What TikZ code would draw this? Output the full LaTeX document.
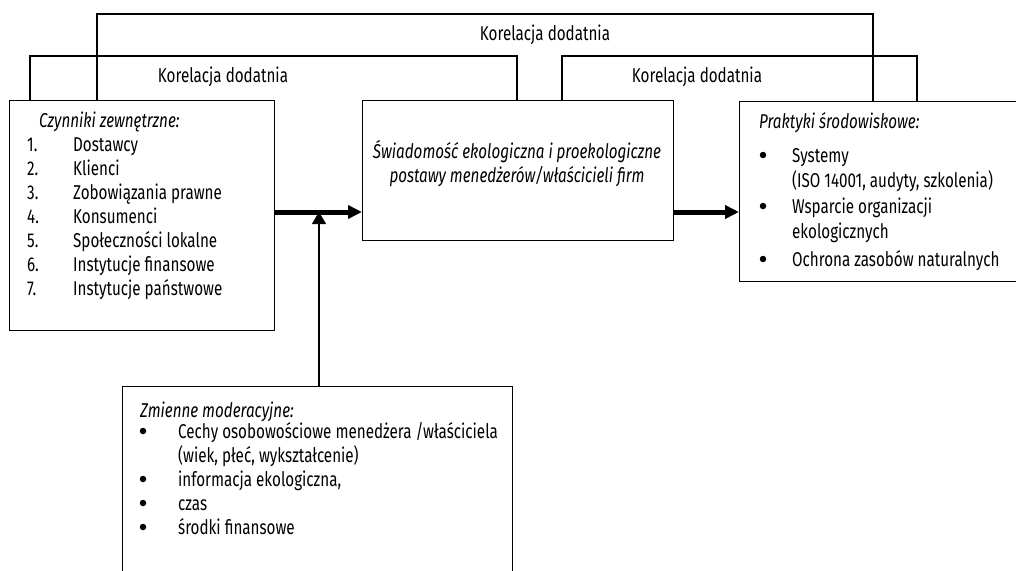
\documentclass[tikz,border=0pt]{standalone}
\usepackage{fontspec}
\setmainfont{Fira Sans}[FakeStretch=0.76]
\usetikzlibrary{arrows.meta}

\begin{document}
\begin{tikzpicture}[x=1pt,y=-1pt,
    ramka/.style={draw,line width=1.3pt,anchor=north west,inner sep=0pt},
    tekst/.style={anchor=base west,inner sep=0pt,font=\fontsize{20}{24}\selectfont},
    kropka/.style={circle,fill,inner sep=0pt,minimum size=6.5pt},
    linia/.style={line width=1.3pt},
    gruba/.style={line width=5pt,-{Triangle[length=14pt,width=13pt]}},
    cienka/.style={line width=1.3pt,-{Triangle[length=12pt,width=14pt]}}]
    \useasboundingbox (0,0) rectangle (1016,570);
    \clip (0,0) rectangle (1016,570);
    % ramki
    \node[ramka,minimum width=265,minimum height=230] (czyn) at (9,100) {};
    \node[ramka,minimum width=311,minimum height=140] (swiad) at (362,100) {};
    \node[ramka,minimum width=300,minimum height=180] (prak) at (739,101) {};
    \node[ramka,minimum width=390,minimum height=220] (mod) at (122,386) {};
    % czynniki zewnetrzne
    \node[tekst,font=\fontsize{20}{24}\selectfont\itshape] (czyn-h) at (39,127) {Czynniki zewnętrzne:};
    \foreach \t [count=\i] in {Dostawcy,Klienci,Zobowiązania prawne,Konsumenci,
        Społeczności lokalne,Instytucje finansowe,Instytucje państwowe}{
        \node[tekst] (czyn-n\i) at (27,{151+24*(\i-1)}) {\i.};
        \node[tekst] (czyn-\i) at (73,{151+24*(\i-1)}) {\t};
    }
    % swiadomosc
    \node[tekst,anchor=base,font=\fontsize{20}{24}\selectfont\itshape] (swiad-1) at (517,158) {Świadomość ekologiczna i proekologiczne};
    \node[tekst,anchor=base,font=\fontsize{20}{24}\selectfont\itshape] (swiad-2) at (517,182) {postawy menedżerów/właścicieli firm};
    % praktyki
    \node[tekst,font=\fontsize{20}{24}\selectfont\itshape] (prak-h) at (759,128) {Praktyki środowiskowe:};
    \foreach \y/\t [count=\i] in {162/Systemy,187/{(ISO 14001, audyty, szkolenia)},
        213/Wsparcie organizacji,238/ekologicznych,266/Ochrona zasobów naturalnych}{
        \node[tekst] (prak-\i) at (792,\y) {\t};
    }
    \foreach \i in {1,3,5}
        \node[kropka] (prak-b\i) at ([yshift=7pt]prak-\i.base -| 763,0) {};
    % zmienne moderacyjne
    \node[tekst,font=\fontsize{20}{24}\selectfont\itshape] (mod-h) at (140,417) {Zmienne moderacyjne:};
    \foreach \y/\t [count=\i] in {438/{Cechy osobowościowe menedżera /właściciela},
        462/{(wiek, płeć, wykształcenie)},486/{informacja ekologiczna,},
        510/czas,534/środki finansowe}{
        \node[tekst] (mod-\i) at (178,\y) {\t};
    }
    \foreach \i in {1,3,4,5}
        \node[kropka] (mod-b\i) at ([yshift=7pt]mod-\i.base -| 143,0) {};
    % korelacje
    \coordinate (k1) at (97,14);
    \coordinate (k2) at (873,14);
    \coordinate (k3) at (30,56);
    \coordinate (k4) at (517,56);
    \coordinate (k5) at (562,56);
    \coordinate (k6) at (917,56);
    \draw[linia] (czyn.north -| k1) |- (k2) -- (prak.north -| k2);
    \draw[linia] (czyn.north -| k3) |- (k4) -- (swiad.north -| k4);
    \draw[linia] (swiad.north -| k5) |- (k6) -- (prak.north -| k6);
    \node[tekst,anchor=base] (kor-1) at (545,40) {Korelacja dodatnia};
    \node[tekst,anchor=base] (kor-2) at (223,82) {Korelacja dodatnia};
    \node[tekst,anchor=base] (kor-3) at (697,82) {Korelacja dodatnia};
    % strzalki
    \coordinate (j) at (319,212);
    \draw[gruba] (czyn.east |- j) -- (swiad.west |- j);
    \draw[gruba] (swiad.east |- j) -- (prak.west |- j);
    \draw[cienka] (mod.north -| j) -- (j);
\end{tikzpicture}
\end{document}
